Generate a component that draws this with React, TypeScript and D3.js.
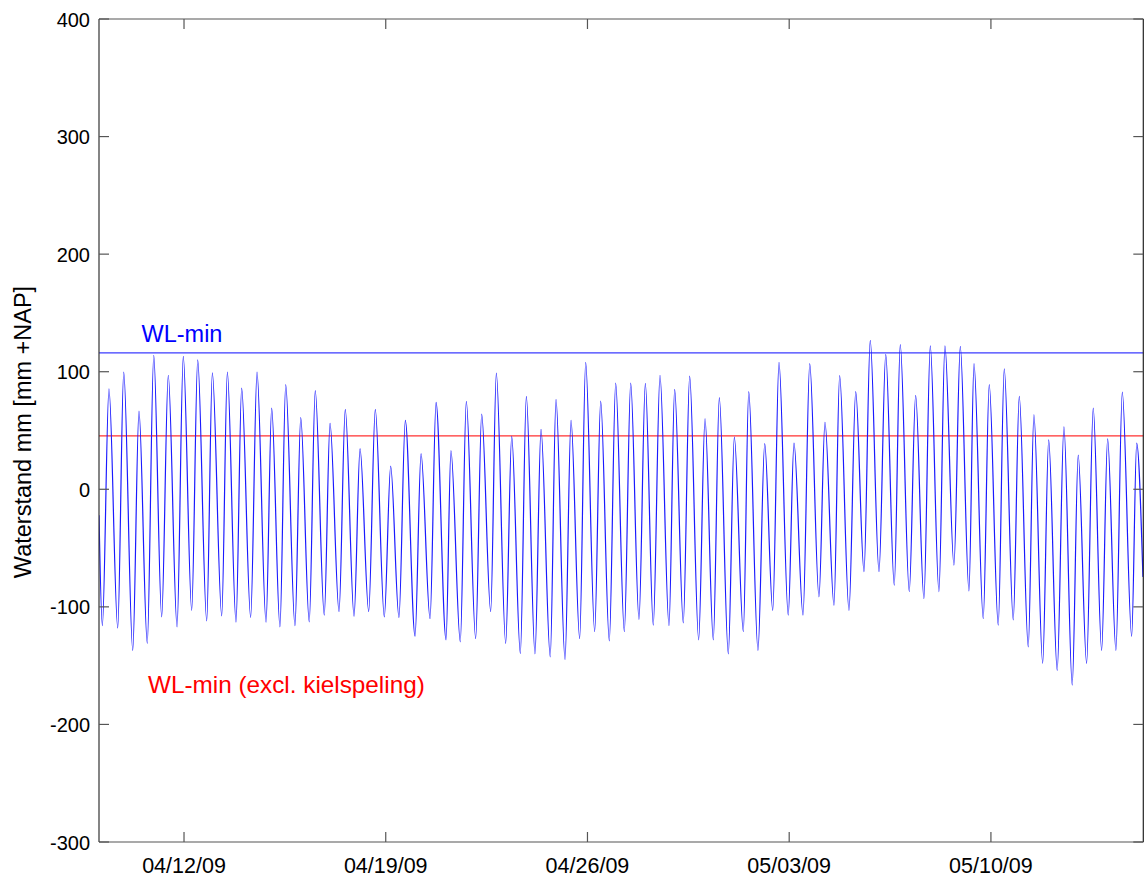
import React from "react";
import * as d3 from "d3";

// Tide extrema: hours since 2009-04-09 00:00 and water level (mm +NAP)
const tideHours = [
  1.2, 4.0, 9.5, 16.8, 21.8, 29.3, 34.5, 41.4, 46.8, 53.4, 58.9, 66.2, 71.4, 78.4, 83.4, 90.9,
  95.6, 103.4, 108.1, 115.3, 120.0, 127.5, 132.8, 140.3, 145.0, 151.9, 156.7, 164.4, 169.2, 176.3,
  181.3, 188.8, 193.6, 201.1, 206.3, 213.6, 218.6, 225.8, 231.3, 238.8, 244.1, 251.0, 256.3, 264.4,
  269.4, 276.9, 281.9, 290.2, 294.3, 302.1, 307.1, 314.9, 319.9, 327.4, 332.1, 339.9, 344.9, 352.1,
  357.1, 364.3, 369.3, 377.0, 381.8, 389.3, 394.3, 401.5, 406.5, 414.0, 419.0, 426.2, 431.5, 438.7,
  444.0, 450.9, 456.2, 462.8, 468.4, 475.9, 480.6, 487.8, 493.1, 500.6, 505.9, 512.8, 517.8, 525.3,
  530.3, 537.8, 542.3, 550.0, 555.6, 562.3, 567.5, 575.2, 580.0, 587.5, 593.1, 600.8, 605.8, 613.3,
  618.0, 625.8, 631.4, 638.3, 643.5, 650.8, 656.4, 663.5, 668.5, 676.0, 681.3, 688.2, 693.5, 700.7,
  705.7, 713.2, 718.5, 725.7, 729.9, 737.6, 742.6, 750.1, 755.1, 762.6, 767.6, 775.1, 779.8, 787.1,
  792.1, 799.2, 804.8, 811.7, 816.7, 823.7, 829.2, 836.2, 841.2, 848.1, 853.4, 861.2, 865.4, 870.6,
];
const tideLevels = [
  -22, -116, 85.5, -118, 99.7, -137, 66.5, -131, 114, -108.5, 97, -117, 113, -103, 110, -112,
  99, -107.6, 99.7, -113, 86, -109, 99.7, -113, 69, -117, 89, -116, 61, -112.7,
  84, -107, 56, -104, 68, -108, 34.6, -104, 68, -108.5, 19.8, -109, 58.6, -125,
  30.3, -110, 74, -128, 33, -129.7, 74.8, -127, 64, -104, 98.8, -131, 45, -139.6,
  79, -140, 51, -142.5, 76.5, -144.7, 58.6, -127, 108, -121, 75, -129, 90.3, -121,
  90.3, -110.7, 90, -115.5, 97, -116, 85, -113.6, 96.3, -128, 60, -128, 78, -140,
  44.4, -121, 83, -137, 38.8, -103, 108, -107, 39.3, -107, 106.8, -91.5, 57, -98.6,
  96.8, -103, 83, -70, 126.6, -70, 114.7, -81.6, 123, -87, 80, -93, 122, -87,
  122, -64.6, 121.5, -86.4, 106.8, -110, 89, -115.5, 102.5, -111, 79, -134, 63.4, -148,
  42, -154, 53, -166.5, 29, -148, 69, -137, 43, -137, 82.6, -125, 39.3, -74.5,
];

const wlMin = 116;
const wlMinExcl = 45.5;
const yTicks = [-300, -200, -100, 0, 100, 200, 300, 400];
const xTickDates = ["2009-04-12", "2009-04-19", "2009-04-26", "2009-05-03", "2009-05-10"];
const labelWL = "WL-min";
const labelWLExcl = "WL-min (excl. kielspeling)";
const yLabel = "Waterstand mm [mm +NAP]";

const W = 1147;
const H = 879;
const M = { left: 99, right: 1143.3, top: 19, bottom: 842 };
const FONT = "'Liberation Sans', Arial, Helvetica, sans-serif";

export default function App() {
  const t0 = new Date(2009, 3, 9, 0, 0, 0);
  const toDate = (h: number) => new Date(t0.getTime() + h * 3600 * 1000);
  const x = d3
    .scaleTime()
    .domain([toDate(1.2), toDate(870.9)])
    .range([M.left, M.right]);
  const y = d3.scaleLinear().domain([-300, 400]).range([M.bottom, M.top]);

  const pts: [Date, number][] = tideHours.map((h, i) => [toDate(h), tideLevels[i]]);
  const line = d3
    .line<[Date, number]>()
    .x((d) => x(d[0]))
    .y((d) => y(d[1]))
    .curve(d3.curveMonotoneX);

  const fmt = d3.timeFormat("%m/%d/%y");
  const xTicks = xTickDates.map((s) => {
    const [yy, mm, dd] = s.split("-").map(Number);
    return new Date(yy, mm - 1, dd);
  });
  const axisColor = "#555";
  const tickLen = 10;

  return (
    <svg
      width={W}
      height={H}
      style={{ position: "absolute", left: 0, top: 0, background: "#fff" }}
      fontFamily={FONT}
    >
      <rect x={0} y={0} width={W} height={H} fill="#fff" />
      <defs>
        <clipPath id="plotclip">
          <rect x={M.left} y={M.top} width={M.right - M.left} height={M.bottom - M.top} />
        </clipPath>
      </defs>

      {/* reference lines */}
      <line x1={M.left} x2={M.right} y1={y(wlMin)} y2={y(wlMin)} stroke="#3b3bff" strokeWidth={1.2} />
      <line x1={M.left} x2={M.right} y1={y(wlMinExcl)} y2={y(wlMinExcl)} stroke="#ff3030" strokeWidth={1.2} />

      {/* tide series */}
      <path d={line(pts) || ""} fill="none" stroke="#1a1aff" strokeWidth={1.2} clipPath="url(#plotclip)" />

      {/* box */}
      <line x1={M.left} x2={M.right} y1={M.top} y2={M.top} stroke={axisColor} strokeWidth={1.2} />
      <line x1={M.left} x2={M.right} y1={M.bottom} y2={M.bottom} stroke={axisColor} strokeWidth={1.2} />
      <line x1={M.left} x2={M.left} y1={M.top} y2={M.bottom} stroke="#333" strokeWidth={1.2} />
      <line x1={M.right} x2={M.right} y1={M.top} y2={M.bottom} stroke="#222" strokeWidth={1.2} />

      {/* y ticks */}
      {yTicks.map((v) => (
        <g key={"y" + v}>
          <line x1={M.left} x2={M.left + tickLen} y1={y(v)} y2={y(v)} stroke={axisColor} strokeWidth={1.2} />
          <line x1={M.right - tickLen} x2={M.right} y1={y(v)} y2={y(v)} stroke={axisColor} strokeWidth={1.2} />
          <text x={90} y={y(v) + 7.5} textAnchor="end" fontSize={20} fill="#000">
            {v}
          </text>
        </g>
      ))}

      {/* x ticks */}
      {xTicks.map((d) => (
        <g key={"x" + d.getTime()}>
          <line x1={x(d)} x2={x(d)} y1={M.bottom} y2={M.bottom - tickLen} stroke={axisColor} strokeWidth={1.2} />
          <line x1={x(d)} x2={x(d)} y1={M.top} y2={M.top + tickLen} stroke={axisColor} strokeWidth={1.2} />
          <text x={x(d)} y={873} textAnchor="middle" fontSize={21.5} fill="#000">
            {fmt(d)}
          </text>
        </g>
      ))}

      {/* y label */}
      <text
        transform={`translate(31,432) rotate(-90)`}
        textAnchor="middle"
        fontSize={23.5}
        fill="#000"
      >
        {yLabel}
      </text>

      {/* annotations */}
      <text x={141.5} y={341.5} fontSize={23.5} fill="#0000ff">
        {labelWL}
      </text>
      <text x={148} y={693} fontSize={24.3} fill="#ff0000">
        {labelWLExcl}
      </text>
    </svg>
  );
}
